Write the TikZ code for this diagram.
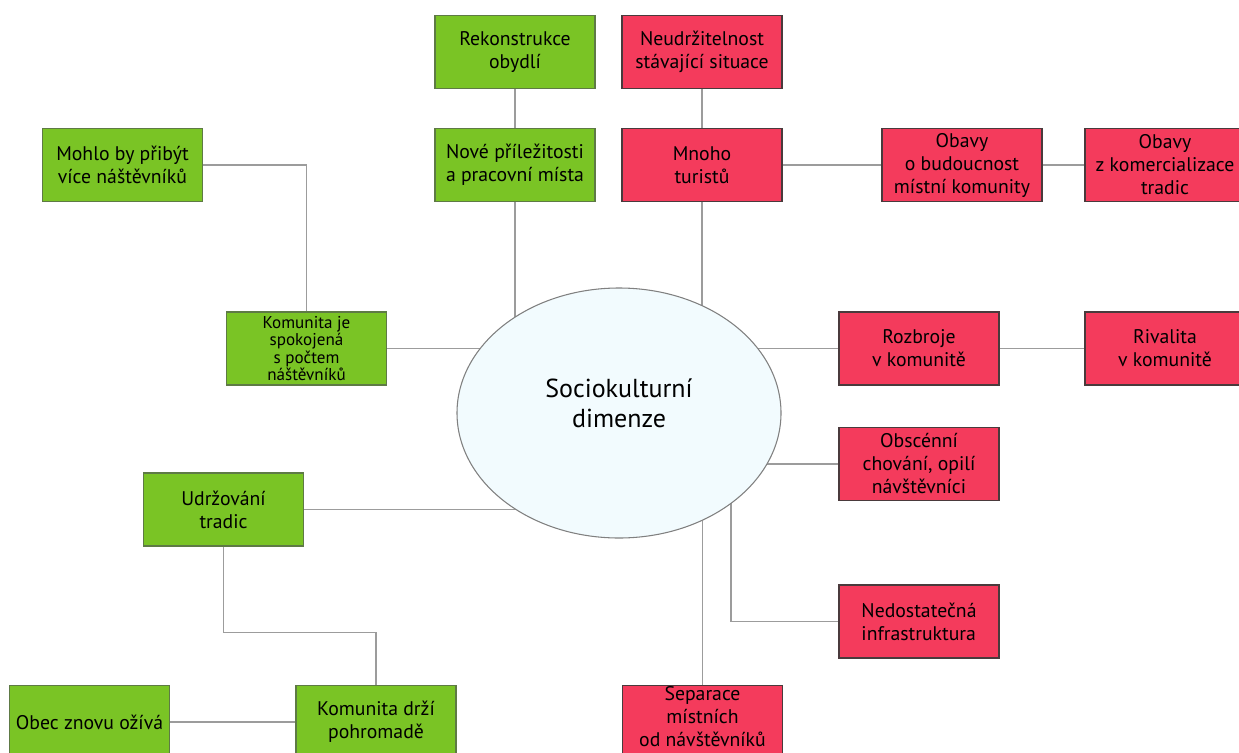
\documentclass[tikz,border=0pt]{standalone}
\usepackage{fontspec}
\setmainfont{PT Sans}
\usetikzlibrary{positioning,backgrounds,calc,shapes.geometric}

\definecolor{LeafGreen}{HTML}{7AC425}
\definecolor{GreenEdge}{HTML}{5E7A45}
\definecolor{AlertRed}{HTML}{F43B5C}
\definecolor{RedEdge}{HTML}{4A3A3C}
\definecolor{LinkGray}{HTML}{9C9C9C}
\definecolor{CoreFill}{HTML}{F2FBFE}

\begin{document}
\begin{tikzpicture}[
  x=0.75pt, y=-0.75pt,
  on grid,
  box/.style={draw, line width=0.9pt, minimum width=120pt, minimum height=54.75pt,
    align=center, inner sep=1.5pt, font=\fontsize{14.8}{17.25}\selectfont},
  goodbox/.style={box, fill=LeafGreen, draw=GreenEdge},
  badbox/.style={box, fill=AlertRed, draw=RedEdge},
  core/.style={ellipse, draw=gray, line width=0.8pt, fill=CoreFill,
    minimum width=243pt, minimum height=187.5pt, inner sep=0pt, text depth=15pt,
    font=\fontsize{19.5}{22}\selectfont, align=center},
  link/.style={draw=LinkGray, line width=1pt}
  ]

  \useasboundingbox (0,0) rectangle (1239,753);
  \clip (0,0) rectangle (1239,753);

  \node[core] (dim) at (619,413) {Sociokulturní\\dimenze};

  % positive side
  \node[goodbox]  (nove)  at (515,165)               {Nové příležitosti\\a pracovní místa};
  \node[goodbox]  (rek)   [above=84.75pt of nove]    {Rekonstrukce\\obydlí};
  \node[goodbox]  (mohlo) at (122.5,165)             {Mohlo by přibýt\\více náštěvníků};
  \node[goodbox,inner ysep=0pt,font=\fontsize{12.8}{13.2}\selectfont]
                  (spok)  at (306.5,348.5)           {Komunita je\\spokojená\\s počtem\\náštěvníků};
  \node[goodbox]  (udr)   at (223.5,509.5)           {Udržování\\tradic};
  \node[goodbox]  (drzi)  at (376,722)               {Komunita drží\\pohromadě};
  \node[goodbox]  (obec)  [left=214.9pt of drzi]     {Obec znovu ožívá};

  % negative side
  \node[badbox]   (mnoho) at (702,165)               {Mnoho\\turistů};
  \node[badbox]   (neud)  [above=84.75pt of mnoho]   {Neudržitelnost\\stávající situace};
  \node[badbox]   (obav1) [right=195pt of mnoho]     {Obavy\\o budoucnost\\místní komunity};
  \node[badbox]   (obav2) [right=152.25pt of obav1]  {Obavy\\z komercializace\\tradic};
  \node[badbox]   (rozb)  at (919,348.5)             {Rozbroje\\v komunitě};
  \node[badbox]   (rival) [right=184.5pt of rozb]    {Rivalita\\v komunitě};
  \node[badbox]   (obsc)  [below=86.6pt of rozb]     {Obscénní\\chování, opilí\\návštěvníci};
  \node[badbox,align=left]
                  (ned)   [below=118.1pt of obsc]    {Nedostatečná\\infrastruktura};
  \node[badbox,inner ysep=0pt,text depth=8pt]
                  (sep)   at (702.5,722)             {Separace\\místních\\od návštěvníků};

  \begin{scope}[on background layer]
    \draw[link] (rek) -- (nove);
    \draw[link] (neud) -- (mnoho);
    \draw[link] (mnoho) -- (obav1);
    \draw[link] (obav1) -- (obav2);
    \draw[link] (rozb) -- (rival);
    \draw[link] (obec) -- (drzi);
    \draw[link] (mohlo.east) -| (spok.north);
    \draw[link] (udr.south) -- ++(0,86) -| (drzi.north);
    \draw[link] (nove.south) -- (nove.south |- dim.center);
    \draw[link] (mnoho.south) -- (mnoho.south |- dim.center);
    \draw[link] (spok.east) -- (spok.east -| dim.center);
    \draw[link] (udr.east) -- (udr.east -| dim.center);
    \draw[link] (rozb.west) -- (rozb.west -| dim.center);
    \draw[link] (obsc.west) -- (obsc.west -| dim.center);
    \draw[link] (ned.west) -| ($(dim.center)+(112,0)$);
    \draw[link] (sep.north) -- (sep.north |- dim.center);
  \end{scope}
\end{tikzpicture}
\end{document}
